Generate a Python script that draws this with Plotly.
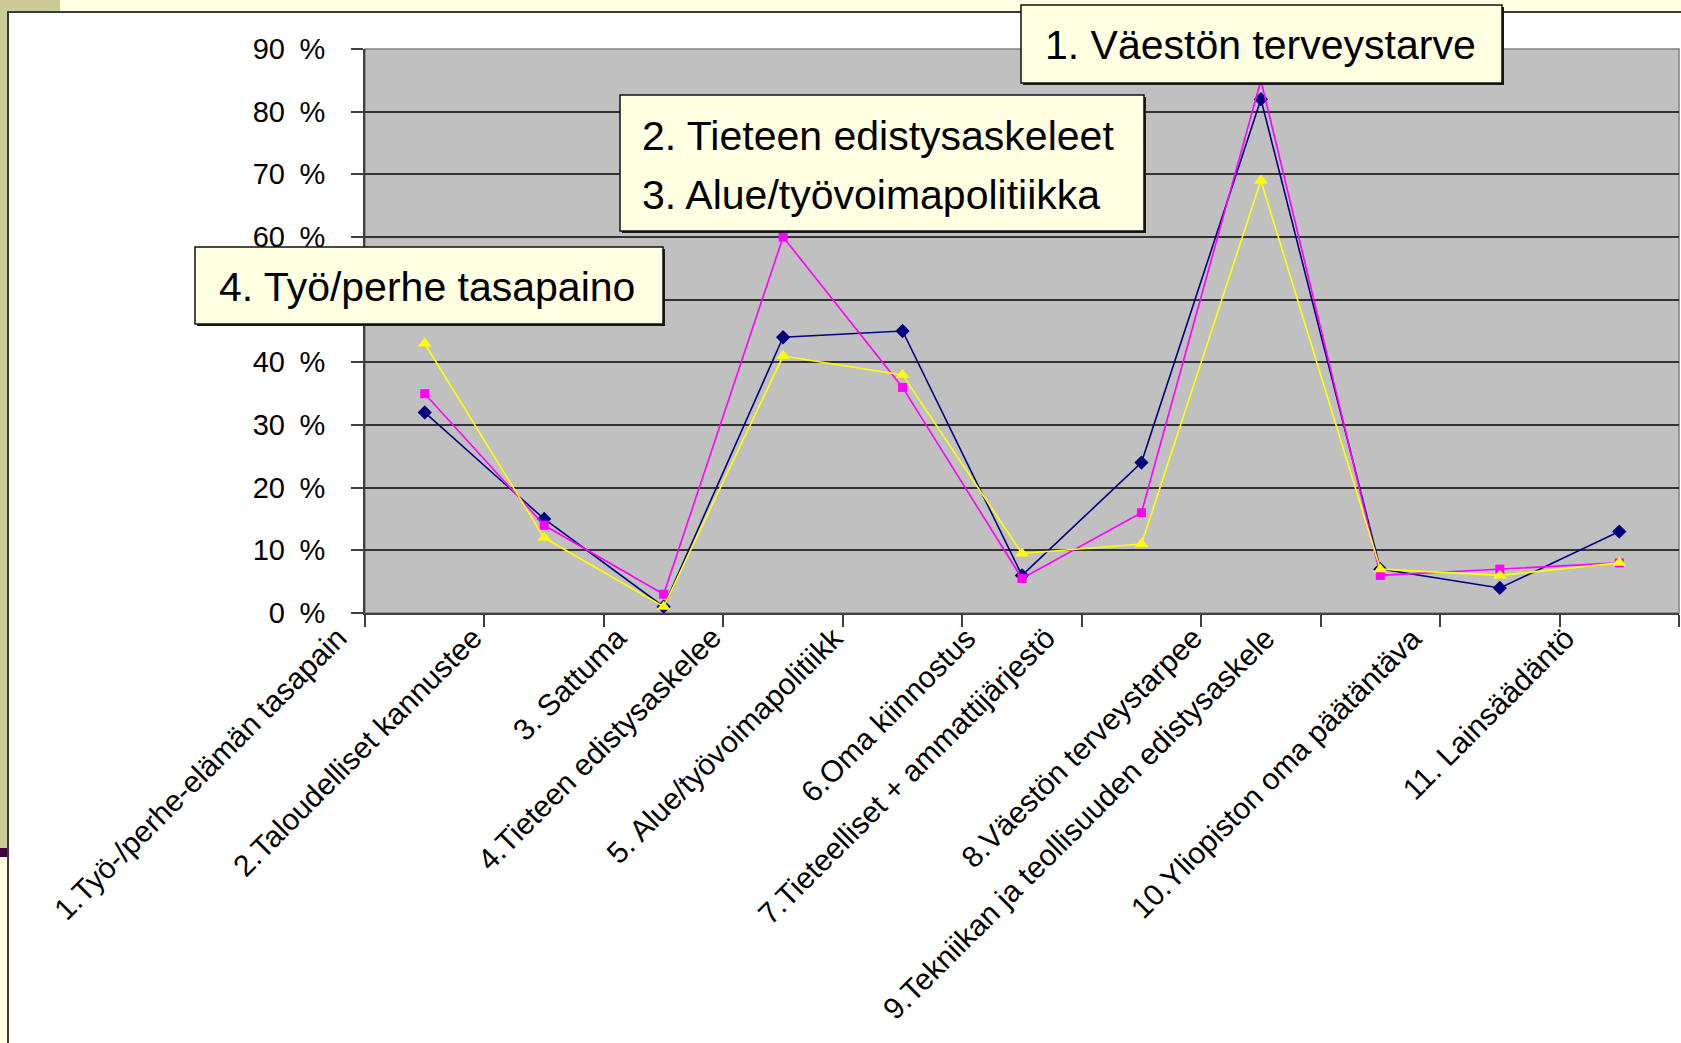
import plotly.graph_objects as go

# ---------------- data ----------------
categories = [
    "1.Työ-/perhe-elämän tasapain",
    "2.Taloudelliset kannustee",
    "3. Sattuma",
    "4.Tieteen edistysaskelee",
    "5. Alue/työvoimapolitiikk",
    "6.Oma kiinnostus",
    "7.Tieteelliset + ammattijärjestö",
    "8.Väestön terveystarpee",
    "9.Tekniikan ja teollisuuden edistysaskele",
    "10.Yliopiston oma päätäntäva",
    "11. Lainsäädäntö",
]
series_navy = [32, 15, 1, 44, 45, 6, 24, 82, 7, 4, 13]
series_magenta = [35, 14, 3, 60, 36, 5.5, 16, 85, 6, 7, 8]
series_yellow = [43, 12, 1, 41, 38, 9.5, 11, 69, 7, 6, 8]
y_ticks = [0, 10, 20, 30, 40, 50, 60, 70, 80, 90]
y_hidden = [50]  # covered by the callout box in the original

callout_1 = "1. Väestön terveystarve"
callout_2 = ["2. Tieteen edistysaskeleet", "3. Alue/työvoimapolitiikka"]
callout_3 = "4. Työ/perhe tasapaino"

# style: horizontal offset (px) of each rotated category label (clipped labels sit further left)
label_xshift = [-69, -53, -28, -53, -51, -37, -77, -50, -97, -69, -36]

# ---------------- geometry helpers (figure pixels -> paper) ----------------
W, H = 1681, 1043
ML, MR, MT, MB = 365, 2, 49, 430
PW = W - ML - MR
PH = H - MT - MB


def X(px):
    return (px - ML) / PW


def Y(py):
    return (H - MB - py) / PH


fig = go.Figure()

fig.add_trace(go.Scatter(
    x=categories, y=series_navy, mode="lines+markers",
    line=dict(color="#000080", width=1.6),
    marker=dict(symbol="diamond", size=11, color="#000080"),
    showlegend=False))
fig.add_trace(go.Scatter(
    x=categories, y=series_magenta, mode="lines+markers",
    line=dict(color="#FF00FF", width=1.6),
    marker=dict(symbol="square", size=9, color="#FF00FF"),
    showlegend=False))
fig.add_trace(go.Scatter(
    x=categories, y=series_yellow, mode="lines+markers",
    line=dict(color="#FFFF00", width=1.6),
    marker=dict(symbol="triangle-up", size=12, color="#FFFF00"),
    showlegend=False))

shapes = []
cream = "#FFFFE1"
olive = "#CCCC99"
# page decorations
shapes.append(dict(type="rect", xref="paper", yref="paper", x0=X(0), x1=X(W), y0=Y(0), y1=Y(12),
                   fillcolor=cream, line=dict(width=0), layer="below"))
shapes.append(dict(type="rect", xref="paper", yref="paper", x0=X(0), x1=X(60), y0=Y(0), y1=Y(12),
                   fillcolor=olive, line=dict(width=0), layer="below"))
shapes.append(dict(type="rect", xref="paper", yref="paper", x0=X(0), x1=X(7), y0=Y(0), y1=Y(848),
                   fillcolor=olive, line=dict(width=0), layer="below"))
shapes.append(dict(type="rect", xref="paper", yref="paper", x0=X(0), x1=X(7), y0=Y(848), y1=Y(857),
                   fillcolor="#400040", line=dict(width=0), layer="below"))
shapes.append(dict(type="rect", xref="paper", yref="paper", x0=X(0), x1=X(7), y0=Y(857), y1=Y(H),
                   fillcolor=cream, line=dict(width=0), layer="below"))
shapes.append(dict(type="line", xref="paper", yref="paper", x0=X(8), x1=X(8), y0=Y(11), y1=Y(H),
                   line=dict(color="#3A3A3A", width=2), layer="below"))
shapes.append(dict(type="line", xref="paper", yref="paper", x0=X(7), x1=X(W), y0=Y(12), y1=Y(12),
                   line=dict(color="#3A3A3A", width=2), layer="below"))
# plot-area frame
shapes.append(dict(type="rect", xref="paper", yref="paper", x0=0, x1=1, y0=0, y1=1,
                   line=dict(color="#808080", width=1.5), layer="below"))


def box(x0, y0, x1, y1):
    shapes.append(dict(type="rect", xref="paper", yref="paper",
                       x0=X(x0 + 2), x1=X(x1 + 2), y0=Y(y0 + 2), y1=Y(y1 + 2),
                       fillcolor="#1A1A1A", line=dict(width=0), layer="above"))
    shapes.append(dict(type="rect", xref="paper", yref="paper",
                       x0=X(x0), x1=X(x1), y0=Y(y0), y1=Y(y1),
                       fillcolor=cream, line=dict(color="#111111", width=1.5), layer="above"))


box(1021, 5, 1502, 83)
box(620, 95, 1144, 231)
box(195, 247, 663, 324)

callout_font = dict(family="Liberation Sans, Arial", size=41, color="black")
annotations = [
    dict(text=callout_1, xref="paper", yref="paper", x=X(1043), y=Y(45), xanchor="left", yanchor="middle",
         showarrow=False, font=callout_font),
    dict(text=callout_2[0], xref="paper", yref="paper", x=X(640), y=Y(136), xanchor="left", yanchor="middle",
         showarrow=False, font=callout_font),
    dict(text=callout_2[1], xref="paper", yref="paper", x=X(640), y=Y(195), xanchor="left", yanchor="middle",
         showarrow=False, font=callout_font),
    dict(text=callout_3, xref="paper", yref="paper", x=X(217), y=Y(287), xanchor="left", yanchor="middle",
         showarrow=False, font=callout_font),
]

# rotated category labels (Excel-style: ending left of the category centre)
label_font = dict(family="Liberation Sans, Arial", size=30, color="black")
for c, dx in zip(categories, label_xshift):
    annotations.append(dict(
        text=c, x=c, xref="x", y=0, yref="paper",
        xanchor="right", yanchor="top", textangle=-45,
        xshift=dx, yshift=-5, showarrow=False, font=label_font))

fig.update_layout(
    width=W, height=H,
    margin=dict(l=ML, r=MR, t=MT, b=MB, pad=0),
    paper_bgcolor="white",
    plot_bgcolor="#C0C0C0",
    shapes=shapes,
    annotations=annotations,
    xaxis=dict(
        type="category", categoryorder="array", categoryarray=categories,
        range=[-0.5, len(categories) - 0.5],
        tickson="boundaries", ticks="outside", ticklen=12, tickwidth=1.5, tickcolor="#404040",
        showticklabels=False, showgrid=False, zeroline=False,
        showline=True, linecolor="#404040", linewidth=2,
    ),
    yaxis=dict(
        range=[0, 90], tickvals=y_ticks,
        ticktext=["" if v in y_hidden else f"{v}\u2002%" for v in y_ticks],
        ticks="outside", ticklen=12, tickwidth=1.5, tickcolor="#404040",
        ticklabelstandoff=20,
        showgrid=True, gridcolor="#333333", gridwidth=1.5,
        zeroline=False, showline=True, linecolor="#404040", linewidth=2,
        tickfont=dict(family="Liberation Sans, Arial", size=29, color="black"),
    ),
)

fig.write_html("out.html", config={"displayModeBar": False},
               post_script="document.body.style.margin='0';")
